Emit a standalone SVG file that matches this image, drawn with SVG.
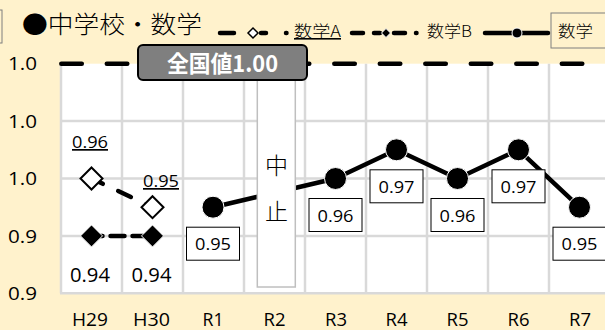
<svg xmlns="http://www.w3.org/2000/svg" width="605" height="330" viewBox="0 0 605 330">
<style>
text{font-family:"Noto Sans CJK JP","Noto Sans",sans-serif;fill:#000}
.num{font-family:"Open Sans","Noto Sans",sans-serif}
.jp{font-weight:300}
.grid{stroke:#d9d9d9;stroke-width:2.5;fill:none}
.ax{font-size:18px}
.cat{font-size:18px;text-anchor:middle}
.dl{font-size:17px;text-anchor:middle}
.dbox{fill:#fff;stroke:#000;stroke-width:1}
.leg{font-size:16px}
.ln{fill:none;stroke:#000;stroke-width:4.5;stroke-linecap:round;stroke-linejoin:round}
.dot{fill:#000;stroke:#fff;stroke-width:1}
.odia{fill:#fff;stroke:#000;stroke-width:2}
.fdia{fill:#000;stroke:#fff;stroke-width:1}
</style>
<defs>
<path id="dia" d="M0 -11 L11 0 L0 11 L-11 0 Z"/>
</defs>
<rect width="605" height="330" fill="#FFF2CC"/>
<rect x="-50" y="10" width="52" height="33" fill="none" stroke="#7f7f7f" stroke-width="1"/>
<g id="plot">
<rect x="60" y="63.7" width="546" height="229.6" fill="#fff"/>
<path class="grid" d="M60 121.1H605M60 178.5H605M60 235.9H605M60 293.3H605M61 63.7V293.3M122 63.7V293.3M183 63.7V293.3M244 63.7V293.3M305 63.7V293.3M366 63.7V293.3M427 63.7V293.3M488 63.7V293.3M549 63.7V293.3"/>
</g>
<g id="axis-labels">
<text class="ax num" x="8" y="70" textLength="29" lengthAdjust="spacingAndGlyphs">1.0</text>
<text class="ax num" x="8" y="127.5" textLength="29" lengthAdjust="spacingAndGlyphs">1.0</text>
<text class="ax num" x="8" y="185" textLength="29" lengthAdjust="spacingAndGlyphs">1.0</text>
<text class="ax num" x="8" y="242.5" textLength="29" lengthAdjust="spacingAndGlyphs">0.9</text>
<text class="ax num" x="8" y="300" textLength="29" lengthAdjust="spacingAndGlyphs">0.9</text>
<text class="cat num" x="90" y="326" textLength="36" lengthAdjust="spacingAndGlyphs">H29</text>
<text class="cat num" x="151.5" y="326" textLength="37" lengthAdjust="spacingAndGlyphs">H30</text>
<text class="cat num" x="213" y="326" textLength="21" lengthAdjust="spacingAndGlyphs">R1</text>
<text class="cat num" x="274.5" y="326" textLength="22" lengthAdjust="spacingAndGlyphs">R2</text>
<text class="cat num" x="336" y="326" textLength="22" lengthAdjust="spacingAndGlyphs">R3</text>
<text class="cat num" x="396.5" y="326" textLength="22" lengthAdjust="spacingAndGlyphs">R4</text>
<text class="cat num" x="457.5" y="326" textLength="22" lengthAdjust="spacingAndGlyphs">R5</text>
<text class="cat num" x="518.5" y="326" textLength="22" lengthAdjust="spacingAndGlyphs">R6</text>
<text class="cat num" x="580" y="326" textLength="22" lengthAdjust="spacingAndGlyphs">R7</text>
</g>
<g id="connectors">
<path id="national" class="ln" d="M61.3 63.7H605" stroke-dasharray="20.5 25"/>
<path id="line-math" class="ln" d="M213 207.2L335.5 178.5L396.5 149.8L457.5 178.5L518.5 149.8L579.5 207.2"/>
<path id="line-a" class="ln" d="M91.5 178.5L152.5 207.2" stroke-dasharray="14 17" stroke-dashoffset="1.5"/>
<path id="line-b" class="ln" d="M91.5 235.9L152.5 235.9" stroke-dasharray="14 8" stroke-dashoffset="3"/>
</g>
<g id="markers">
<use href="#dia" class="odia" x="91.5" y="178.5"/>
<use href="#dia" class="odia" x="152.5" y="207.2"/>
<use href="#dia" class="fdia" x="91.5" y="235.9"/>
<use href="#dia" class="fdia" x="152.5" y="235.9"/>
<circle class="dot" cx="213" cy="207.2" r="11"/>
<circle class="dot" cx="335.5" cy="178.5" r="11"/>
<circle class="dot" cx="396.5" cy="149.8" r="11"/>
<circle class="dot" cx="457.5" cy="178.5" r="11"/>
<circle class="dot" cx="518.5" cy="149.8" r="11"/>
<circle class="dot" cx="579.5" cy="207.2" r="11"/>
</g>
<g id="data-labels">
<text class="dl num" x="90" y="148" text-decoration="underline" textLength="36" lengthAdjust="spacingAndGlyphs">0.96</text>
<text class="dl num" x="161" y="187" text-decoration="underline" textLength="36" lengthAdjust="spacingAndGlyphs">0.95</text>
<text class="dl num" x="90" y="282" style="font-size:20px" textLength="40" lengthAdjust="spacingAndGlyphs">0.94</text>
<text class="dl num" x="151.5" y="282" style="font-size:20px" textLength="40" lengthAdjust="spacingAndGlyphs">0.94</text>
<g id="lbl-r1"><rect class="dbox" x="186.5" y="227.2" width="53" height="33"/><text class="dl num" x="213" y="250.2" textLength="36" lengthAdjust="spacingAndGlyphs">0.95</text></g>
<g id="lbl-r3"><rect class="dbox" x="309" y="198.5" width="53" height="33"/><text class="dl num" x="335.5" y="221.5" textLength="36" lengthAdjust="spacingAndGlyphs">0.96</text></g>
<g id="lbl-r4"><rect class="dbox" x="370" y="169.8" width="53" height="33"/><text class="dl num" x="396.5" y="192.8" textLength="36" lengthAdjust="spacingAndGlyphs">0.97</text></g>
<g id="lbl-r5"><rect class="dbox" x="431" y="198.5" width="53" height="33"/><text class="dl num" x="457.5" y="221.5" textLength="36" lengthAdjust="spacingAndGlyphs">0.96</text></g>
<g id="lbl-r6"><rect class="dbox" x="492" y="169.8" width="53" height="33"/><text class="dl num" x="518.5" y="192.8" textLength="36" lengthAdjust="spacingAndGlyphs">0.97</text></g>
<g id="lbl-r7"><rect class="dbox" x="553" y="227.2" width="53" height="33"/><text class="dl num" x="579.5" y="250.2" textLength="36" lengthAdjust="spacingAndGlyphs">0.95</text></g>
</g>
<g id="suspended">
<rect x="257.3" y="72" width="38" height="215" fill="#fff" stroke="#bfbfbf" stroke-width="1.5"/>
<text class="jp" x="276.5" y="174" font-size="23" text-anchor="middle">中</text>
<text class="jp" x="276.5" y="220" font-size="23" text-anchor="middle">止</text>
</g>
<g id="national-label">
<rect x="138" y="45" width="169" height="35" rx="5" fill="#7f7f7f" stroke="#000" stroke-width="2"/>
<text x="222.5" y="72" font-size="23" font-weight="bold" text-anchor="middle" style="fill:#fff" textLength="111" lengthAdjust="spacingAndGlyphs">全国値1.00</text>
</g>
<g id="title">
<text class="jp" x="22" y="33" font-size="24" textLength="180" lengthAdjust="spacingAndGlyphs">●中学校・数学</text>
</g>
<g id="legend">
<path class="ln" d="M220 33H234M261 33H266M286 33H286.5"/>
<path d="M253 28L258 33L253 38L248 33Z" fill="#fff" stroke="#000" stroke-width="1.5"/>
<text class="leg jp" x="294" y="37" text-decoration="underline" textLength="47" lengthAdjust="spacingAndGlyphs">数学A</text>
<path class="ln" d="M352 33H363M374 33H380M394 33H405M416 33H416.5"/>
<path d="M386 28.5L390.5 33L386 37.5L381.5 33Z" fill="#000" stroke="#fff" stroke-width="1"/>
<text class="leg jp" x="427" y="37" textLength="45" lengthAdjust="spacingAndGlyphs">数学B</text>
<path class="ln" d="M485 33H548"/>
<circle class="dot" cx="517" cy="33" r="5"/>
<rect x="551" y="13" width="60" height="35" fill="none" stroke="#7f7f7f" stroke-width="1"/>
<text class="leg jp" x="558" y="37" textLength="35" lengthAdjust="spacingAndGlyphs">数学</text>
</g>
</svg>
